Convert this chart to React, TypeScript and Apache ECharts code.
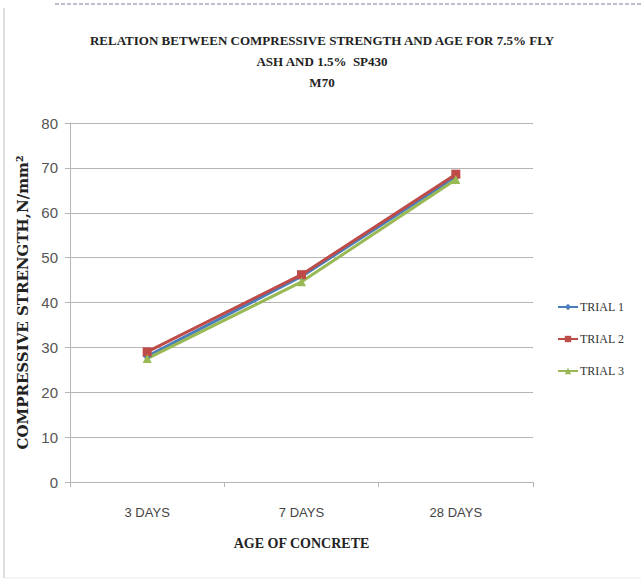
import React, { useEffect, useRef } from "react";
import * as echarts from "echarts";

const categories = ["3 DAYS", "7 DAYS", "28 DAYS"];
const trial1 = [28.0, 45.8, 68.0];
const trial2 = [29.0, 46.2, 68.6];
const trial3 = [27.5, 44.6, 67.4];
const seriesNames = ["TRIAL 1", "TRIAL 2", "TRIAL 3"];
const colors = ["#4A7EBB", "#BE4B48", "#98B954"];
const symbols = ["diamond", "rect", "triangle"];

export default function App() {
  const ref = useRef<HTMLDivElement>(null);
  useEffect(() => {
    if (!ref.current) return;
    const chart = echarts.init(ref.current, null, { renderer: "svg" });
    const data = [trial1, trial2, trial3];
    chart.setOption({
      animation: false,
      backgroundColor: "#ffffff",
      title: {
        text: "RELATION BETWEEN COMPRESSIVE STRENGTH AND AGE FOR 7.5% FLY\nASH AND 1.5%  SP430\nM70",
        left: 317,
        textAlign: "center",
        top: 25,
        textStyle: {
          fontFamily: "Liberation Serif",
          fontWeight: "bold",
          fontSize: 13,
          lineHeight: 21,
          color: "#222",
        },
      },
      legend: {
        orient: "vertical",
        left: 552,
        top: 296,
        itemGap: 20,
        itemWidth: 20,
        itemHeight: 8,
        data: seriesNames,
        textStyle: { fontFamily: "Liberation Serif", fontSize: 12, color: "#333", padding: [0, 0, 0, -3] },
      },
      grid: { left: 70, right: 108, top: 123, bottom: 99 },
      xAxis: {
        type: "category",
        data: categories,
        boundaryGap: true,
        name: "AGE OF CONCRETE",
        nameLocation: "middle",
        nameGap: 54,
        nameTextStyle: { fontFamily: "Liberation Serif", fontWeight: "bold", fontSize: 14, color: "#222" },
        axisLine: { lineStyle: { color: "#b5b5b5" } },
        axisTick: { show: true, length: 5, lineStyle: { color: "#b5b5b5" } },
        axisLabel: { fontFamily: "Liberation Sans Narrow, Liberation Sans", fontSize: 13, color: "#444", margin: 24 },
      },
      yAxis: {
        type: "value",
        min: 0,
        max: 80,
        interval: 10,
        name: "COMPRESSIVE STRENGTH,N/mm²",
        nameLocation: "middle",
        nameGap: 33,
        nameTextStyle: { fontFamily: "DejaVu Serif", fontWeight: "bold", fontSize: 15, color: "#222" },
        axisLine: { show: true, lineStyle: { color: "#b5b5b5" } },
        axisTick: { show: true, length: 5, lineStyle: { color: "#b5b5b5" } },
        axisLabel: { fontFamily: "Liberation Sans Narrow, Liberation Sans", fontSize: 15, color: "#555", margin: 12 },
        splitLine: { lineStyle: { color: "#b5b5b5" } },
      },
      graphic: [
        {
          type: "line",
          shape: { x1: 4, y1: 8, x2: 4, y2: 578 },
          style: { stroke: "#bdbdbd", lineWidth: 1 },
          silent: true,
        },
        {
          type: "line",
          shape: { x1: 55, y1: 4, x2: 641, y2: 4 },
          style: { stroke: "#7a8090", lineWidth: 1, lineDash: [4, 2] },
          silent: true,
        },
        {
          type: "line",
          shape: { x1: 4, y1: 578, x2: 641, y2: 578 },
          style: { stroke: "#ececec", lineWidth: 1 },
          silent: true,
        },
      ],
      series: seriesNames.map((name, i) => ({
        name,
        type: "line",
        data: data[i],
        color: colors[i],
        symbol: symbols[i],
        symbolSize: 9,
        lineStyle: { width: 3, color: colors[i] },
        itemStyle: { color: colors[i] },
      })),
    });
    return () => chart.dispose();
  }, []);
  return <div ref={ref} style={{ position: "fixed", left: 0, top: 0, width: 641, height: 581 }} />;
}
